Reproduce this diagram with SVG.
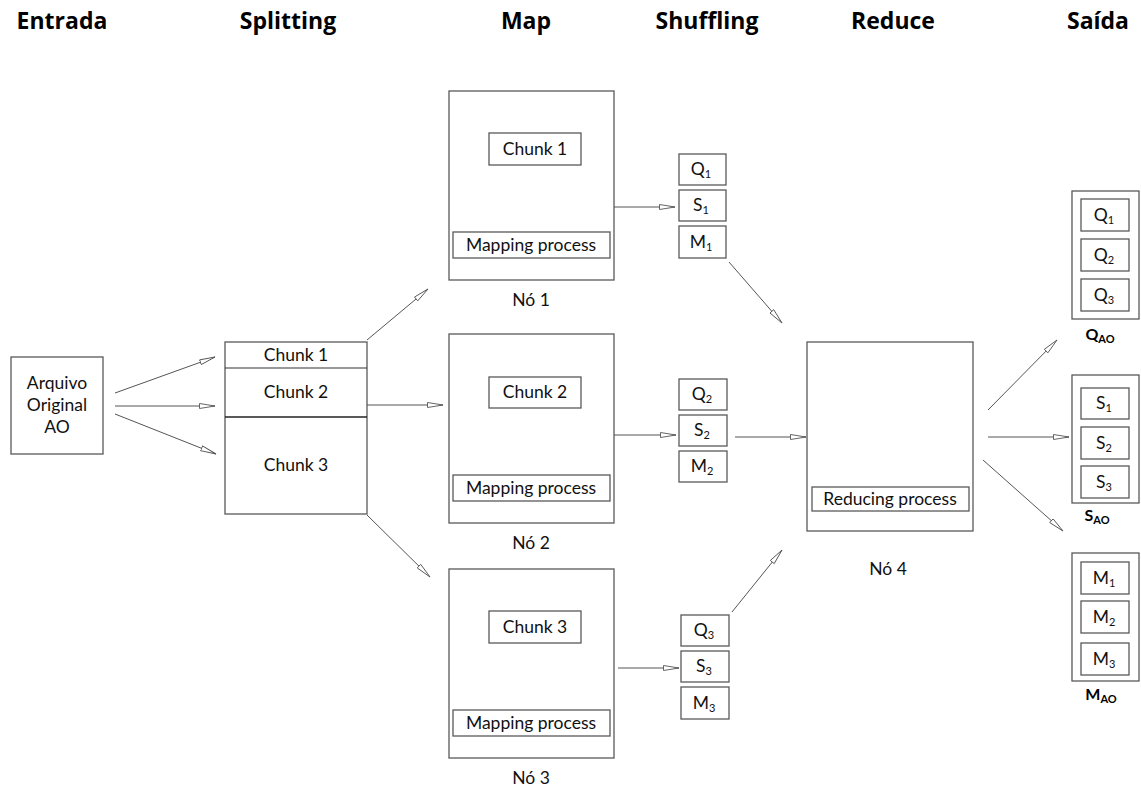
<svg xmlns="http://www.w3.org/2000/svg" width="1141" height="789" viewBox="0 0 1141 789">
  <style>
    .box { fill: #fff; stroke: #595959; stroke-width: 1.3; }
    .t { font-family: Lato, "Open Sans", "Liberation Sans", sans-serif; font-size: 17.5px; fill: #111; text-anchor: middle; }
    .h { font-family: "Open Sans", Lato, "Liberation Sans", sans-serif; font-size: 23px; font-weight: bold; fill: #000; text-anchor: middle; }
    .lb { font-family: Lato, "Liberation Sans", sans-serif; font-size: 16px; font-weight: bold; fill: #000; text-anchor: middle; }
    .sub { font-size: 11px; }
    .c { stroke: #555; stroke-width: 1; fill: none; marker-end: url(#open); }
  </style>
  <defs>
    <marker id="open" markerUnits="userSpaceOnUse" markerWidth="18" markerHeight="8" refX="16" refY="3" orient="auto">
      <path d="M0.5,0.5 L16,3 L0.5,5.5 Z" fill="#fff" stroke="#555" stroke-width="0.9"/>
    </marker>
  </defs>

  <!-- column headings -->
  <g id="headings">
    <text class="h" x="62" y="29">Entrada</text>
    <text class="h" x="288" y="29">Splitting</text>
    <text class="h" x="526" y="29">Map</text>
    <text class="h" x="707" y="29">Shuffling</text>
    <text class="h" x="893" y="29">Reduce</text>
    <text class="h" x="1098" y="29">Saída</text>
  </g>

  <!-- input file -->
  <g id="arquivo">
    <rect class="box" x="11" y="357" width="92" height="97"/>
    <text class="t" x="57" y="389">Arquivo</text>
    <text class="t" x="57" y="411">Original</text>
    <text class="t" x="57" y="433">AO</text>
  </g>

  <!-- split file -->
  <g id="splitting">
    <rect class="box" x="225" y="342" width="142" height="172"/>
    <line x1="225" y1="368" x2="367" y2="368" stroke="#333" stroke-width="1.2"/>
    <line x1="225" y1="417" x2="367" y2="417" stroke="#222" stroke-width="1.3"/>
    <text class="t" x="296" y="361">Chunk 1</text>
    <text class="t" x="296" y="398">Chunk 2</text>
    <text class="t" x="296" y="471">Chunk 3</text>
  </g>

  <!-- map nodes -->
  <g id="no1">
    <rect class="box" x="449" y="91" width="165" height="189"/>
    <rect class="box" x="489" y="133" width="92" height="32"/>
    <text class="t" x="535" y="155">Chunk 1</text>
    <rect class="box" x="453" y="232" width="157" height="26"/>
    <text class="t" x="531" y="251">Mapping process</text>
    <text class="t" x="531" y="306">Nó 1</text>
  </g>
  <g id="no2">
    <rect class="box" x="449" y="334" width="165" height="189"/>
    <rect class="box" x="489" y="377" width="92" height="31"/>
    <text class="t" x="535" y="398">Chunk 2</text>
    <rect class="box" x="453" y="475" width="157" height="26"/>
    <text class="t" x="531" y="494">Mapping process</text>
    <text class="t" x="531" y="549">Nó 2</text>
  </g>
  <g id="no3">
    <rect class="box" x="449" y="569" width="165" height="189"/>
    <rect class="box" x="489" y="611" width="92" height="32"/>
    <text class="t" x="535" y="633">Chunk 3</text>
    <rect class="box" x="453" y="710" width="157" height="26"/>
    <text class="t" x="531" y="729">Mapping process</text>
    <text class="t" x="531" y="784">Nó 3</text>
  </g>

  <!-- shuffled key groups -->
  <g id="shuffle1">
    <rect class="box" x="679" y="154" width="47" height="31"/>
    <text class="t" x="701" y="175">Q<tspan class="sub" dy="3">1</tspan></text>
    <rect class="box" x="679" y="190" width="47" height="31"/>
    <text class="t" x="701" y="211">S<tspan class="sub" dy="3">1</tspan></text>
    <rect class="box" x="679" y="226" width="47" height="32"/>
    <text class="t" x="701" y="248">M<tspan class="sub" dy="3">1</tspan></text>
  </g>
  <g id="shuffle2">
    <rect class="box" x="679" y="379" width="48" height="31"/>
    <text class="t" x="702" y="400">Q<tspan class="sub" dy="3">2</tspan></text>
    <rect class="box" x="679" y="415" width="48" height="31"/>
    <text class="t" x="702" y="436">S<tspan class="sub" dy="3">2</tspan></text>
    <rect class="box" x="679" y="451" width="48" height="31"/>
    <text class="t" x="702" y="472">M<tspan class="sub" dy="3">2</tspan></text>
  </g>
  <g id="shuffle3">
    <rect class="box" x="681" y="615" width="48" height="31"/>
    <text class="t" x="704" y="636">Q<tspan class="sub" dy="3">3</tspan></text>
    <rect class="box" x="681" y="651" width="48" height="31"/>
    <text class="t" x="704" y="672">S<tspan class="sub" dy="3">3</tspan></text>
    <rect class="box" x="681" y="687" width="48" height="32"/>
    <text class="t" x="704" y="709">M<tspan class="sub" dy="3">3</tspan></text>
  </g>

  <!-- reduce node -->
  <g id="no4">
    <rect class="box" x="807" y="342" width="166" height="189"/>
    <rect class="box" x="812" y="487" width="157" height="24"/>
    <text class="t" x="890" y="505">Reducing process</text>
    <text class="t" x="888" y="575">Nó 4</text>
  </g>

  <!-- outputs -->
  <g id="saida-q">
    <rect class="box" x="1072" y="191" width="67" height="128"/>
    <rect class="box" x="1081" y="199" width="48" height="32"/>
    <text class="t" x="1104" y="221">Q<tspan class="sub" dy="3">1</tspan></text>
    <rect class="box" x="1081" y="239" width="48" height="32"/>
    <text class="t" x="1104" y="261">Q<tspan class="sub" dy="3">2</tspan></text>
    <rect class="box" x="1081" y="279" width="48" height="32"/>
    <text class="t" x="1104" y="301">Q<tspan class="sub" dy="3">3</tspan></text>
    <text class="lb" x="1100" y="340">Q<tspan class="sub" dy="3">AO</tspan></text>
  </g>
  <g id="saida-s">
    <rect class="box" x="1072" y="375" width="67" height="128"/>
    <rect class="box" x="1081" y="388" width="48" height="31"/>
    <text class="t" x="1104" y="409">S<tspan class="sub" dy="3">1</tspan></text>
    <rect class="box" x="1081" y="427" width="48" height="32"/>
    <text class="t" x="1104" y="449">S<tspan class="sub" dy="3">2</tspan></text>
    <rect class="box" x="1081" y="466" width="48" height="32"/>
    <text class="t" x="1104" y="488">S<tspan class="sub" dy="3">3</tspan></text>
    <text class="lb" x="1097" y="521">S<tspan class="sub" dy="3">AO</tspan></text>
  </g>
  <g id="saida-m">
    <rect class="box" x="1072" y="553" width="67" height="128"/>
    <rect class="box" x="1081" y="562" width="48" height="32"/>
    <text class="t" x="1104" y="584">M<tspan class="sub" dy="3">1</tspan></text>
    <rect class="box" x="1081" y="601" width="48" height="32"/>
    <text class="t" x="1104" y="623">M<tspan class="sub" dy="3">2</tspan></text>
    <rect class="box" x="1081" y="643" width="48" height="32"/>
    <text class="t" x="1104" y="665">M<tspan class="sub" dy="3">3</tspan></text>
    <text class="lb" x="1101" y="700">M<tspan class="sub" dy="3">AO</tspan></text>
  </g>

  <!-- connectors -->
  <g id="connectors">
    <line class="c" x1="115" y1="393" x2="215" y2="357"/>
    <line class="c" x1="115" y1="406" x2="215" y2="406"/>
    <line class="c" x1="115" y1="414" x2="216" y2="454"/>
    <line class="c" x1="367" y1="340" x2="428" y2="289"/>
    <line class="c" x1="367" y1="405" x2="443" y2="405"/>
    <line class="c" x1="367" y1="515" x2="430" y2="577"/>
    <line class="c" x1="614" y1="207" x2="675" y2="207"/>
    <line class="c" x1="614" y1="435" x2="676" y2="435"/>
    <line class="c" x1="618" y1="668" x2="679" y2="668"/>
    <line class="c" x1="729" y1="262" x2="782" y2="323"/>
    <line class="c" x1="735" y1="437" x2="806" y2="437"/>
    <line class="c" x1="732" y1="612" x2="782" y2="550"/>
    <line class="c" x1="988" y1="410" x2="1057" y2="340"/>
    <line class="c" x1="988" y1="437" x2="1069" y2="437"/>
    <line class="c" x1="983" y1="460" x2="1063" y2="531"/>
  </g>
</svg>
